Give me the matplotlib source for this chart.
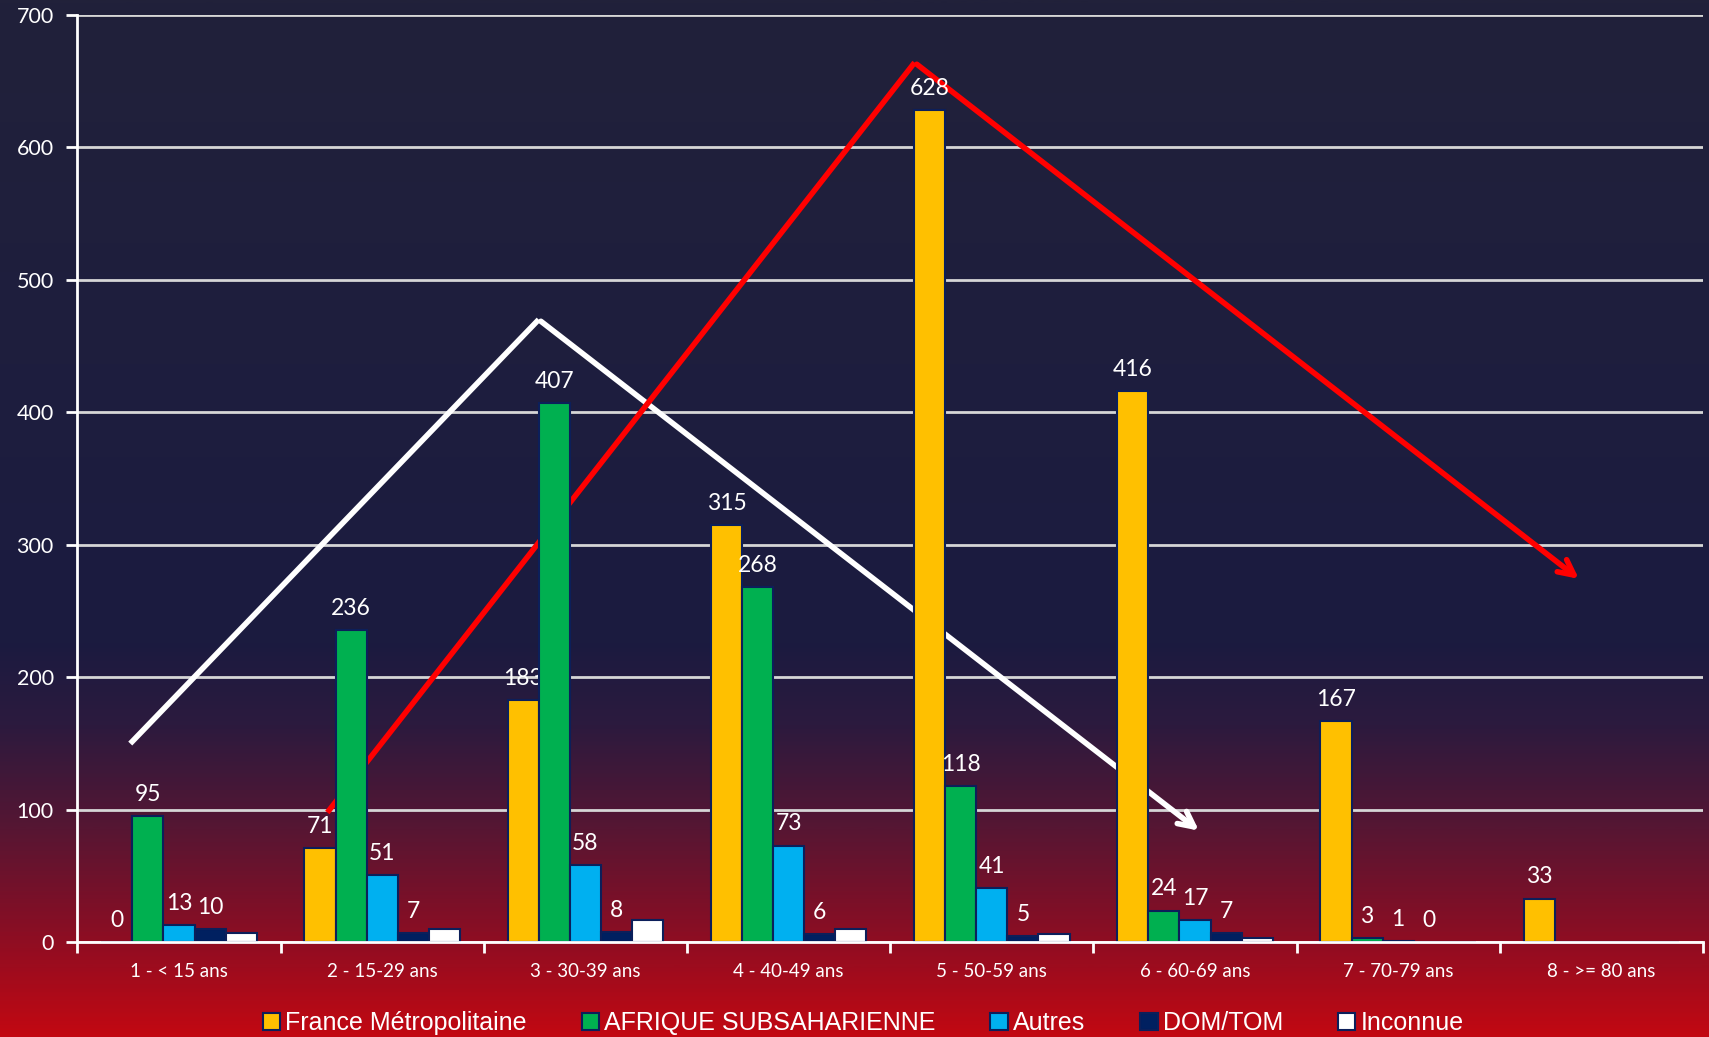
import matplotlib as mpl
mpl.use('Agg')
import matplotlib.pyplot as plt
import numpy as np
from matplotlib.colors import LinearSegmentedColormap

categories = ['1 - < 15 ans', '2 - 15-29 ans', '3 - 30-39 ans', '4 - 40-49 ans',
              '5 - 50-59 ans', '6 - 60-69 ans', '7 - 70-79 ans', '8 - >= 80 ans']
series = ['France Métropolitaine', 'AFRIQUE SUBSAHARIENNE', 'Autres', 'DOM/TOM', 'Inconnue']
france = [0, 71, 183, 315, 628, 416, 167, 33]
afrique = [95, 236, 407, 268, 118, 24, 3, 0]
autres = [13, 51, 58, 73, 41, 17, 1, 0]
domtom = [10, 7, 8, 6, 5, 7, 0, 0]
inconnue = [7, 10, 17, 10, 6, 3, 0, 0]
# which bars carry a value label (the chart shows none for Inconnue, none past the first bar in the last group)
labelled = [
    [True] * 8,
    [True] * 7 + [False],
    [True] * 7 + [False],
    [True] * 7 + [False],
    [False] * 8,
]
colors = ['#ffc000', '#00b050', '#00b0f0', '#002060', '#ffffff']

# hand-drawn trend arrows, in data units (group index, count)
white_arrow_x = [-0.24, 1.77, 5.03]
white_arrow_y = [150, 470, 83]
red_arrow_x = [0.73, 3.62, 6.9]
red_arrow_y = [98, 664, 273]

fig = plt.figure(figsize=(17.09, 10.37), dpi=100)

# background gradient
bg = fig.add_axes([0, 0, 1, 1], zorder=-10)
cmap = LinearSegmentedColormap.from_list('bg', [
    (0.0, '#21213a'), (0.35, '#1e1e3e'), (0.62, '#1b1b40'), (0.70, '#2c1a3e'),
    (0.80, '#561633'), (0.90, '#8a0e24'), (1.0, '#c20812')])
grad = np.linspace(0, 1, 512).reshape(-1, 1)
bg.imshow(grad, aspect='auto', cmap=cmap, extent=[0, 1, 0, 1])
bg.axis('off')

ax = fig.add_axes([0.0453, 0.0913, 0.9512, 0.8944])
ax.set_facecolor('none')
ax.set_zorder(1)

x = np.arange(len(categories))
w = 0.153
data = [france, afrique, autres, domtom, inconnue]
for i, (vals, col, name) in enumerate(zip(data, colors, series)):
    pos = x + (i - 2) * w
    bars = ax.bar(pos, vals, w, color=col, edgecolor='#0c1f5a', linewidth=1.5,
                  label=name, zorder=3)
    for j, b in enumerate(bars):
        if labelled[i][j]:
            ax.annotate(str(vals[j]), (b.get_x() + w / 2, vals[j]),
                        xytext=(0, 8), textcoords='offset points',
                        ha='center', va='bottom', color='white',
                        fontsize=16.5, family='Lato')

# trend arrows, behind bars
ax.plot(white_arrow_x[:2], white_arrow_y[:2], color='white', lw=4, zorder=2,
        solid_capstyle='butt')
ax.annotate('', xy=(white_arrow_x[2], white_arrow_y[2]),
            xytext=(white_arrow_x[1], white_arrow_y[1]),
            arrowprops=dict(arrowstyle='->,head_length=1.1,head_width=0.55',
                            color='white', lw=4), zorder=2)
ax.plot(red_arrow_x[:2], red_arrow_y[:2], color='#ff0000', lw=4, zorder=2,
        solid_capstyle='butt')
ax.annotate('', xy=(red_arrow_x[2], red_arrow_y[2]),
            xytext=(red_arrow_x[1], red_arrow_y[1]),
            arrowprops=dict(arrowstyle='->,head_length=1.1,head_width=0.55',
                            color='#ff0000', lw=4), zorder=2)

ax.set_xlim(-0.5, len(categories) - 0.5)
ax.set_ylim(0, 700)
ax.set_yticks(range(0, 701, 100))
ax.yaxis.grid(True, color='#d6d6d6', lw=2, zorder=0)
ax.set_axisbelow(True)

ax.set_xticks(x)
ax.set_xticklabels(categories, fontsize=13.5, family='Lato', color='white')
ax.set_xticks(np.arange(-0.5, len(categories), 1), minor=True)
ax.tick_params(axis='x', which='major', length=0, pad=15)
ax.tick_params(axis='x', which='minor', length=8, width=2, color='white', direction='out')
ax.tick_params(axis='y', length=8, width=2, color='white', labelcolor='white',
               labelsize=15.5, pad=9)
for lab in ax.get_yticklabels():
    lab.set_family('Lato')

for s in ['top', 'right']:
    ax.spines[s].set_visible(False)
for s in ['left', 'bottom']:
    ax.spines[s].set_color('white')
    ax.spines[s].set_linewidth(2)
ax.spines['bottom'].set_zorder(4)

leg = fig.legend(loc='center', bbox_to_anchor=(0.505, 0.0135), ncol=5, frameon=False,
                 prop={'family': 'Liberation Sans', 'size': 18},
                 handlelength=0.7, handleheight=0.7, handletextpad=0.2,
                 columnspacing=2.2, borderaxespad=0)
for t in leg.get_texts():
    t.set_color('white')

fig.savefig('out.png', dpi=100)
